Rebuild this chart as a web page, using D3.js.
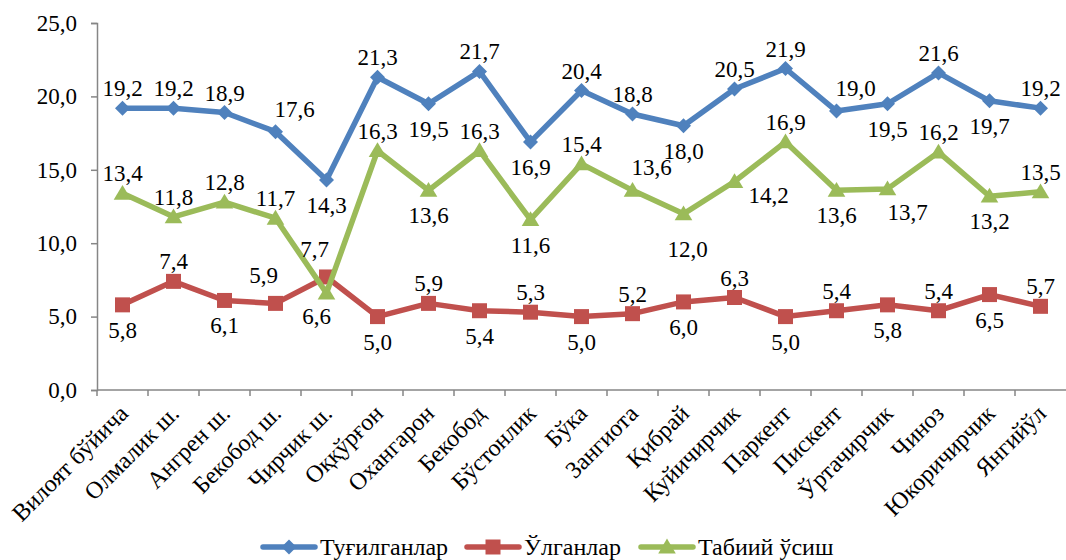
<!DOCTYPE html>
<html>
<head>
<meta charset="utf-8">
<script src="https://cdn.jsdelivr.net/npm/d3@7"></script>
<style>
  body { margin: 0; background: #fff; }
</style>
</head>
<body>
<div id="chart"></div>
<script>
const categories = ["Вилоят бўйича", "Олмалик ш.", "Ангрен ш.", "Бекобод ш.", "Чирчик ш.",
    "Оққўрғон", "Охангарон", "Бекобод", "Бўстонлик", "Бўка", "Зангиота", "Қибрай",
    "Куйичирчик", "Паркент", "Пискент", "Ўртачирчик", "Чиноз", "Юкоричирчик", "Янгийўл"];
const births = [19.2, 19.2, 18.9, 17.6, 14.3, 21.3, 19.5, 21.7, 16.9, 20.4, 18.8, 18.0, 20.5, 21.9, 19.0, 19.5, 21.6, 19.7, 19.2];
const deaths = [5.8, 7.4, 6.1, 5.9, 7.7, 5.0, 5.9, 5.4, 5.3, 5.0, 5.2, 6.0, 6.3, 5.0, 5.4, 5.8, 5.4, 6.5, 5.7];
const growth = [13.4, 11.8, 12.8, 11.7, 6.6, 16.3, 13.6, 16.3, 11.6, 15.4, 13.6, 12.0, 14.2, 16.9, 13.6, 13.7, 16.2, 13.2, 13.5];
const yTicks = [0, 5, 10, 15, 20, 25];

// where each data label sits relative to its point
const birthsPos = ["t","t","t","tr","b","t","b","t","b","t","t","b","t","t","tr","b","t","b","t"];
const deathsPos = ["b","t","b","tl","tl","b","t","b","t","b","t","b","t","b","t","b","t","b","t"];
const growthPos = ["t","t","t","t","bl","t","b","t","b","t","tr","bb","r","t","b","br","t","b","t"];

const series = [
    { name: "Туғилганлар", values: births, pos: birthsPos, color: "#4f81bd", marker: "diamond" },
    { name: "Ўлганлар", values: deaths, pos: deathsPos, color: "#c0504d", marker: "square" },
    { name: "Табиий ўсиш", values: growth, pos: growthPos, color: "#9bbb59", marker: "triangle" }
];

const width = 1066, height = 560;
const margin = { top: 23, right: 0, bottom: 170, left: 97 };
const font = '"Liberation Serif"';

const svg = d3.select("#chart").append("svg")
    .attr("width", width)
    .attr("height", height);

const x = d3.scaleBand()
    .domain(categories)
    .range([margin.left, width - margin.right]);

const y = d3.scaleLinear()
    .domain([0, 25])
    .range([height - margin.bottom, margin.top]);

const fmt = v => d3.format(".1f")(v).replace(".", ",");
const axisColor = "#868686";

// y axis
const yAxis = svg.append("g")
    .attr("transform", `translate(${margin.left},0)`)
    .call(d3.axisLeft(y).tickValues(yTicks).tickFormat(fmt).tickSize(6).tickPadding(14));
yAxis.attr("font-family", null);
yAxis.select(".domain").attr("stroke", axisColor).attr("stroke-width", 1.5);
yAxis.selectAll(".tick line").attr("stroke", axisColor).attr("stroke-width", 1.5);
yAxis.selectAll("text")
    .style("font-family", font)
    .style("font-size", "23px")
    .attr("fill", "#000");

// x axis: line with ticks on the category boundaries
const xg = svg.append("g");
xg.append("line")
    .attr("x1", margin.left).attr("x2", width - margin.right)
    .attr("y1", y(0)).attr("y2", y(0))
    .attr("stroke", axisColor).attr("stroke-width", 1.5);
xg.selectAll(".xt")
    .data(categories)
    .enter().append("line")
    .attr("x1", d => x(d)).attr("x2", d => x(d))
    .attr("y1", y(0)).attr("y2", y(0) + 6)
    .attr("stroke", axisColor).attr("stroke-width", 1.5);
xg.selectAll(".xl")
    .data(categories)
    .enter().append("text")
    .attr("text-anchor", "end")
    .style("font-family", font)
    .style("font-size", "24px")
    .attr("transform", d => `translate(${x(d) + x.bandwidth() / 2 + 7},${y(0) + 25}) rotate(-45)`)
    .text(d => d);

function markerPath(type, s) {
    if (type === "diamond") return `M0,${-s}L${s},0L0,${s}L${-s},0Z`;
    if (type === "square") return `M${-s},${-s}H${s}V${s}H${-s}Z`;
    return `M0,${-s * 1.05}L${s * 1.1},${s * 0.8}L${-s * 1.1},${s * 0.8}Z`;
}
const markerSize = { diamond: 7.5, square: 7.5, triangle: 8 };

const offsets = {
    t: [0, -12], b: [0, 33], bb: [4, 43],
    tr: [19, -15], tl: [-12, -20], bl: [-10, 31], br: [20, 31], r: [34, 21]
};

const line = d3.line()
    .x((d, i) => x(categories[i]) + x.bandwidth() / 2)
    .y(d => y(d));

series.forEach(s => {
    const g = svg.append("g");
    g.append("path")
        .datum(s.values)
        .attr("fill", "none")
        .attr("stroke", s.color)
        .attr("stroke-width", 5.5)
        .attr("stroke-linejoin", "round")
        .attr("d", line);
    g.selectAll(".m")
        .data(s.values)
        .enter().append("path")
        .attr("fill", s.color)
        .attr("transform", (d, i) => `translate(${x(categories[i]) + x.bandwidth() / 2},${y(d)})`)
        .attr("d", markerPath(s.marker, markerSize[s.marker]));
});

// data labels
series.forEach(s => {
    svg.append("g").selectAll("text")
        .data(s.values)
        .enter().append("text")
        .attr("text-anchor", "middle")
        .style("font-family", font)
        .style("font-size", "23px")
        .attr("x", (d, i) => x(categories[i]) + x.bandwidth() / 2 + offsets[s.pos[i]][0])
        .attr("y", (d, i) => y(d) + offsets[s.pos[i]][1])
        .text(d => fmt(d));
});

// legend
const legendX = [261, 465, 639];
const legend = svg.append("g").attr("transform", "translate(0,547)");
series.forEach((s, i) => {
    const lg = legend.append("g").attr("transform", `translate(${legendX[i]},0)`);
    lg.append("line")
        .attr("x1", 2).attr("x2", 54)
        .attr("stroke", s.color).attr("stroke-width", 5.5)
        .attr("stroke-linecap", "round");
    lg.append("path")
        .attr("transform", "translate(28,0)")
        .attr("fill", s.color)
        .attr("d", markerPath(s.marker, markerSize[s.marker]));
    lg.append("text")
        .attr("x", 59).attr("y", 8)
        .style("font-family", font)
        .style("font-size", "24px")
        .text(s.name);
});
</script>
</body>
</html>
